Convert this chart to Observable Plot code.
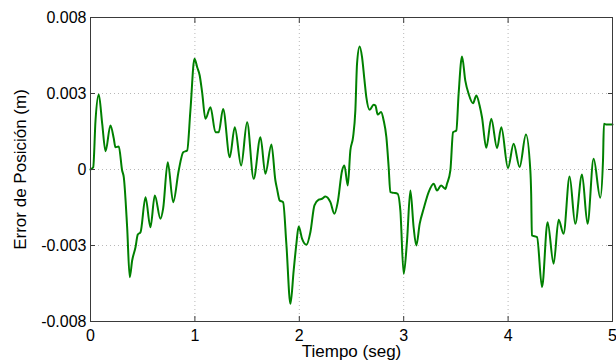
<!DOCTYPE html>
<html><head><meta charset="utf-8">
<script src="https://cdn.jsdelivr.net/npm/d3@7"></script>
<script src="https://cdn.jsdelivr.net/npm/@observablehq/plot@0.6"></script>
<style>body{margin:0;background:#fff}</style>
</head><body><div id="chart"></div>
<script>
const time = [0,0.026,0.048,0.079,0.112,0.144,0.191,0.223,0.239,0.271,0.303,0.319,0.351,0.376,0.399,0.431,0.453,0.479,0.527,0.574,0.616,0.670,0.696,0.740,0.792,0.845,0.888,0.926,0.957,0.996,1.022,1.046,1.069,1.101,1.149,1.197,1.228,1.270,1.334,1.382,1.443,1.500,1.563,1.628,1.675,1.733,1.771,1.787,1.812,1.845,1.876,1.915,1.946,1.972,1.994,2.027,2.068,2.106,2.145,2.186,2.218,2.250,2.298,2.336,2.368,2.410,2.432,2.464,2.489,2.515,2.537,2.553,2.578,2.601,2.623,2.642,2.674,2.712,2.729,2.751,2.783,2.808,2.834,2.856,2.872,2.904,2.942,2.968,3.000,3.032,3.064,3.095,3.121,3.153,3.191,3.239,3.287,3.319,3.358,3.399,3.415,3.447,3.473,3.504,3.526,3.559,3.590,3.622,3.664,3.696,3.727,3.750,3.791,3.839,3.894,3.935,3.999,4.053,4.110,4.171,4.213,4.221,4.228,4.277,4.325,4.378,4.436,4.484,4.531,4.589,4.643,4.708,4.761,4.819,4.883,4.909,4.918,4.939,5.0];
const error = [0,0.00012,0.00258,0.00395,0.00242,0.00096,0.00232,0.00163,0.00117,0.00121,-0.00005,-0.00041,-0.00304,-0.00567,-0.00479,-0.00409,-0.00342,-0.00330,-0.00146,-0.00304,-0.00137,-0.00259,-0.00205,0.00038,-0.00172,-0.00005,0.00091,0.00100,0.00311,0.00583,0.00538,0.00495,0.00407,0.00267,0.00328,0.00196,0.00196,0.00319,0.00065,0.00223,0.00021,0.00249,-0.00049,0.00170,-0.00023,0.00132,-0.00058,-0.00102,-0.00163,-0.00172,-0.00391,-0.00707,-0.00532,-0.00391,-0.00300,-0.00365,-0.00396,-0.00330,-0.00189,-0.00159,-0.00154,-0.00142,-0.00172,-0.00233,-0.00172,-0.00005,0.00021,-0.00084,0.00100,0.00170,0.00311,0.00556,0.00647,0.00591,0.00477,0.00381,0.00314,0.00341,0.00337,0.00289,0.00302,0.00258,0.00170,0.00012,-0.00119,-0.00123,-0.00128,-0.00216,-0.00549,-0.00374,-0.00111,-0.00304,-0.00400,-0.00286,-0.00207,-0.00119,-0.00075,-0.00111,-0.00084,-0.00102,-0.00075,-0.00005,0.00196,0.00205,0.00398,0.00595,0.00468,0.00398,0.00349,0.00389,0.00337,0.00275,0.00114,0.00267,0.00112,0.00223,0.00008,0.00135,0.00013,0.00184,-0.00005,-0.00128,-0.00347,-0.00356,-0.00619,-0.00277,-0.00496,-0.00265,-0.00338,-0.00037,-0.00286,-0.00026,-0.00286,0.00056,-0.00149,0.00047,0.00241,0.00237,0.00237];
const xTicks = [0,1,2,3,4,5];
const yTicks = [-0.008,-0.004,0,0.004,0.008];
const yTickLabels = ["-0.008","-0.003","0","0.003","0.008"];
const xLabel = "Tiempo (seg)";
const yLabel = "Error de Posición (m)";

const data = time.map((t,i)=>({t, e: error[i]}));
const font = "'Liberation Sans', Arial, Helvetica, sans-serif";
const axisColor = "#3a3a3a";
const chart = Plot.plot({
  width:616, height:360, marginLeft:90, marginRight:4, marginTop:17, marginBottom:39,
  style:{fontFamily: font, fontSize:"16px", color:"#000", background:"#fff", overflow:"visible"},
  x:{domain:[0,5], label:null},
  y:{domain:[-0.008,0.008], label:null},
  marks:[
    Plot.gridX(xTicks.slice(1,-1), {stroke:"#b8b8b8", strokeOpacity:1, strokeDasharray:"1,3"}),
    Plot.gridY(yTicks.slice(1,-1), {stroke:"#b8b8b8", strokeOpacity:1, strokeDasharray:"1,3"}),
    Plot.line(data, {x:"t", y:"e", stroke:"#008000", strokeWidth:2, curve:"monotone-x"}),
    Plot.frame({stroke:axisColor}),
    Plot.axisX(xTicks, {anchor:"bottom", tickSize:-5, tickPadding:13, stroke:axisColor, fill:"#000", fontSize:16}),
    Plot.axisX(xTicks, {anchor:"top", tickSize:-5, text:null, stroke:axisColor}),
    Plot.axisY(yTicks, {anchor:"left", tickSize:-5, tickPadding:9, stroke:axisColor, fill:"#000", fontSize:16, tickFormat: d => yTickLabels[yTicks.indexOf(d)]}),
    Plot.axisY(yTicks, {anchor:"right", tickSize:-5, text:null, stroke:axisColor}),
    Plot.text([xLabel], {frameAnchor:"bottom", dy:35, lineAnchor:"bottom", textAnchor:"middle", fontSize:17, fill:"#000"}),
    Plot.text([yLabel], {frameAnchor:"left", dx:-65, rotate:-90, textAnchor:"middle", lineAnchor:"bottom", fontSize:17, fill:"#000"})
  ]
});
document.getElementById("chart").appendChild(chart);
</script>
</body></html>
